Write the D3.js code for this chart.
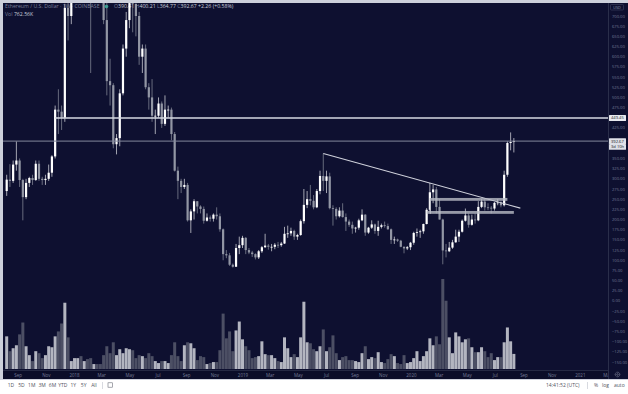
<!DOCTYPE html>
<html>
<head>
<meta charset="utf-8">
<script src="https://cdn.jsdelivr.net/npm/d3@7"></script>
<style>
  body { margin: 0; background: #fff; }
  svg { display: block; font-family: "Open Sans", sans-serif; }
</style>
</head>
<body>
<script>
// weekly ETH/USD candles, first week starts Mon 7 Aug 2017
const firstWeek = "2017-08-07";
const opens = [270,298,295,335,345,297,255,290,302,297, 337,300,297,300,315,355,470,465,450,720,
  700,750,1150,1270,1050,1120,900,870,940,870, 860,690,540,530,385,400,510,620,690,800,
  730,700,600,620,525,500,455,455,485,435, 470,470,410,320,295,280,285,198,220,245,
  232,226,197,205,202,212,208,176,115,112, 89,84,130,137,155,125,119,115,107,122,
  132,136,133,133,138,137,141,165,166,172, 158,162,196,236,250,246,230,270,307,295,
  306,228,226,208,222,206,195,187,178,180, 198,212,168,180,188,172,182,186,184,176,
  150,151,148,133,129,132,143,167,169,171, 189,224,267,274,231,200,124,122,131,144,
  158,170,197,210,187,200,198,231,244,230, 229,227,241,242,235,310,388,390.41];
const highs = [310,336,345,392,350,300,300,305,310,345, 345,305,310,335,358,480,520,480,730,880,
  780,1150,1420,1300,1120,1250,900,975,960,890, 870,735,595,535,410,520,630,710,830,810,
  730,710,630,630,535,545,470,500,490,505, 480,475,415,330,300,300,290,225,250,245,
  235,232,215,210,215,230,215,178,125,118, 92,140,158,160,157,130,123,117,125,135,
  165,140,140,142,145,145,182,185,180,175, 165,200,275,270,285,260,275,320,362,320,
  315,235,230,230,240,215,200,195,182,202, 225,213,182,198,190,197,190,195,190,178,
  158,153,150,134,135,145,170,178,175,190, 228,290,285,280,250,202,140,145,150,175,
  175,200,227,215,212,215,245,250,250,240, 233,243,250,245,320,392,414,400.21];
const lows = [258,280,290,320,280,198,250,280,285,295, 295,285,285,295,305,350,410,420,440,640,
  680,740,1050,780,960,860,560,850,800,840, 680,505,480,375,360,380,505,600,670,660,
  650,580,560,520,470,440,410,450,425,430, 450,395,318,250,265,275,195,167,200,215,
  215,190,195,195,195,200,170,100,105,86, 82,84,115,130,115,115,108,102,103,118,
  130,126,122,127,130,133,140,155,160,150, 150,160,190,228,235,225,228,262,270,265,
  225,185,200,205,205,172,182,165,168,175, 196,160,165,177,165,160,178,180,175,140,
  140,145,132,117,125,125,138,158,155,165, 188,220,240,215,200,90,107,120,128,143,
  145,168,195,180,185,190,196,228,222,223, 215,222,235,230,232,305,370,364.77];
const closes = [298,295,335,345,297,255,290,302,297,337, 300,297,300,315,355,470,465,450,720,700,
  750,1150,1270,1050,1120,900,870,940,870,860, 690,540,530,385,400,510,620,690,800,730,
  700,600,620,525,500,455,455,485,435,470, 470,410,320,295,280,285,198,220,245,232,
  226,197,205,202,212,208,176,115,112,89, 84,130,137,155,125,119,115,107,122,132,
  136,133,133,138,137,141,165,166,172,158, 162,196,236,250,246,230,270,307,295,306,
  228,226,208,222,206,195,187,178,180,198, 212,168,180,188,172,182,186,184,176,150,
  151,148,133,129,132,143,167,169,171,189, 224,267,274,231,200,124,122,131,144,158,
  170,197,210,187,200,198,231,244,230,229, 227,241,242,235,310,388,390.41,392.67];
// volume, thousands of ETH
const volumes = [1650,900,1050,1200,1750,2350,1150,700,400,900, 800,550,700,1150,1100,1650,1900,2300,3350,1600,
  400,550,550,650,400,500,550,250,250,250, 700,1150,800,1350,700,1000,800,1050,1000,950,
  550,700,650,550,800,650,400,300,400,400, 300,700,1350,650,400,1200,1350,1300,1050,450,
  650,600,250,300,350,350,950,2800,1550,1900, 900,1950,2400,1500,1150,950,550,600,650,1400,
  750,700,700,550,400,350,1600,1050,600,750, 600,1600,3400,1350,1300,1000,900,1150,2000,900,
  1100,1700,800,450,600,650,450,450,400,350, 800,1150,500,600,550,850,350,300,500,750,
  650,300,250,700,300,350,550,900,400,650, 900,1550,1200,1650,1250,4550,3450,1600,800,1850,
  1650,1350,1500,1550,1100,850,850,1100,900,600, 800,450,600,600,1350,2100,1400,762.56];

const priceTicks = d3.range(-150, 725, 25);
const rayPrice = 449.45, rayStart = "2017-11-20";
const lastPrice = 392.67;
const trendDates = ["2019-06-24", "2020-08-24"];
const trendPrices = [362, 228];
const zoneDates = [["2020-02-10", "2020-07-27"], ["2020-02-03", "2020-08-10"]];
const zonePrices = [[253, 246], [221, 214]];
const rangeButtons = ["1D", "5D", "1M", "3M", "6M", "YTD", "1Y", "5Y", "All"];

const W = 628, H = 394;
const plot = { left: 3, right: 608, top: 3, bottom: 370 };
const parse = d3.timeParse("%Y-%m-%d");
const start = parse(firstWeek);
const candles = opens.map((o, i) => ({
  date: d3.timeDay.offset(start, 7 * i),
  o: o, h: highs[i], l: lows[i], c: closes[i], v: volumes[i]
}));

const x = d3.scaleTime()
  .domain([new Date(2017, 6, 30), new Date(2021, 2, 2)])
  .range([plot.left, plot.right]);
const y = d3.scaleLinear().domain([-150, 700]).range([362, 16]);
const vh = d3.scaleLinear().domain([0, 4600]).range([0, 91]);

const svg = d3.select("body").append("svg").attr("width", W).attr("height", H);
svg.append("rect").attr("width", W).attr("height", H).attr("fill", "#ffffff");
svg.append("rect").attr("width", W).attr("height", 380).attr("fill", "#cdd0db");
svg.append("rect").attr("x", 3).attr("y", 3).attr("width", W - 3).attr("height", 376).attr("fill", "#0e1030");

// time axis strip + price axis border
svg.append("rect").attr("x", 3).attr("y", plot.bottom).attr("width", plot.right - 3).attr("height", 9).attr("fill", "#0b0d29");
svg.append("line").attr("x1", 3).attr("x2", plot.right).attr("y1", plot.bottom + 0.5).attr("y2", plot.bottom + 0.5)
  .attr("stroke", "#252944");
svg.append("line").attr("x1", plot.right + 0.5).attr("x2", plot.right + 0.5).attr("y1", 3).attr("y2", 379)
  .attr("stroke", "#2a2e4a");

svg.append("clipPath").attr("id", "clip").append("rect")
  .attr("x", plot.left).attr("y", plot.top)
  .attr("width", plot.right - plot.left).attr("height", plot.bottom - plot.top);
svg.append("clipPath").attr("id", "clipT").append("rect")
  .attr("x", plot.left).attr("y", plot.bottom).attr("width", plot.right - plot.left).attr("height", 9);

// legend (sits under the candles)
const legend = svg.append("g").attr("font-size", 5.2);
legend.append("text").attr("x", 5).attr("y", 8.3).attr("fill", "#7a7f99")
  .text("Ethereum / U.S. Dollar · 1W · COINBASE");
legend.append("circle").attr("cx", 106.5).attr("cy", 6.6).attr("r", 1.8).attr("fill", "#22ab94");
const last = candles[candles.length - 1];
const chg = last.c - candles[candles.length - 2].c;
const ohlc = [["O", last.o], ["H", last.h], ["L", last.l], ["C", last.c]];
const lt = legend.append("text").attr("x", 114).attr("y", 8.3);
ohlc.forEach(([k, v]) => {
  lt.append("tspan").attr("fill", "#7a7f99").text(k);
  lt.append("tspan").attr("fill", "#c9ccda").text(v.toFixed(2) + " ");
});
lt.append("tspan").attr("fill", "#c9ccda")
  .text("+" + chg.toFixed(2) + " (+" + (chg / candles[candles.length - 2].c * 100).toFixed(2) + "%)");
const vt = legend.append("text").attr("x", 5).attr("y", 16.3);
vt.append("tspan").attr("fill", "#7a7f99").text("Vol ");
vt.append("tspan").attr("fill", "#c9ccda").text(last.v.toFixed(2) + "K");

const g = svg.append("g").attr("clip-path", "url(#clip)");
const upCol = "#ffffff", dnCol = "#9296a4";

// volume overlay
g.selectAll("rect.vol").data(candles).join("rect").attr("class", "vol")
  .attr("x", d => x(d.date) - 1.5)
  .attr("width", 3)
  .attr("y", d => 369 - vh(d.v))
  .attr("height", d => vh(d.v))
  .attr("fill", d => d.c >= d.o ? "#b3b5c0" : "#4c4f64");

// candles
g.selectAll("line.wick").data(candles).join("line").attr("class", "wick")
  .attr("x1", d => x(d.date)).attr("x2", d => x(d.date))
  .attr("y1", d => y(d.h)).attr("y2", d => y(d.l))
  .attr("stroke", d => d.c >= d.o ? "#c9cad2" : "#7d8190").attr("stroke-width", 0.8);
g.selectAll("rect.body").data(candles).join("rect").attr("class", "body")
  .attr("x", d => x(d.date) - 1.1)
  .attr("width", 2.2)
  .attr("y", d => y(Math.max(d.o, d.c)))
  .attr("height", d => Math.max(0.8, Math.abs(y(d.o) - y(d.c))))
  .attr("fill", d => d.c >= d.o ? upCol : dnCol);

// horizontal lines
g.append("line").attr("x1", plot.left).attr("x2", plot.right)
  .attr("y1", y(lastPrice)).attr("y2", y(lastPrice))
  .attr("stroke", "#84889c").attr("stroke-width", 1);
g.append("line").attr("x1", x(parse(rayStart))).attr("x2", plot.right)
  .attr("y1", y(rayPrice)).attr("y2", y(rayPrice))
  .attr("stroke", "#d6d8e2").attr("stroke-width", 1.4);

// trend line
g.append("line")
  .attr("x1", x(parse(trendDates[0]))).attr("y1", y(trendPrices[0]))
  .attr("x2", x(parse(trendDates[1]))).attr("y2", y(trendPrices[1]))
  .attr("stroke", "#d0d2dc").attr("stroke-width", 1.1);

// support / resistance zones
zoneDates.forEach((dd, i) => {
  g.append("rect")
    .attr("x", x(parse(dd[0]))).attr("width", x(parse(dd[1])) - x(parse(dd[0])))
    .attr("y", y(zonePrices[i][0])).attr("height", y(zonePrices[i][1]) - y(zonePrices[i][0]))
    .attr("fill", "#b9bbc6").attr("fill-opacity", 0.8);
});
g.append("line")
  .attr("x1", x(parse(zoneDates[0][0])) + 0.5).attr("x2", x(parse(zoneDates[0][0])) + 0.5)
  .attr("y1", y(zonePrices[0][0])).attr("y2", y(zonePrices[1][1]))
  .attr("stroke", "#b9bbc6").attr("stroke-width", 1.2);

// time axis labels
const fmtM = d3.timeFormat("%b"), fmtY = d3.timeFormat("%Y");
svg.append("g").attr("clip-path", "url(#clipT)")
  .selectAll("text").data(x.ticks(d3.timeMonth.every(2))).join("text")
  .attr("x", d => x(d)).attr("y", 376.7)
  .attr("text-anchor", "middle").attr("font-size", 4.5).attr("fill", "#767c98")
  .text(d => d.getMonth() === 0 ? fmtY(d) : fmtM(d));

// price axis labels
const busy = [y(rayPrice), y(lastPrice), y(lastPrice) + 5.5];
const ax = svg.append("g").attr("font-size", 4.1).attr("fill", "#747a96");
priceTicks.filter(v => busy.every(b => Math.abs(y(v) - b) > 6))
  .forEach(v => {
    ax.append("text").attr("x", 612).attr("y", y(v) + 1.5)
      .text((v < 0 ? "\u2212" : "") + Math.abs(v).toFixed(2));
  });
function tag(yc, label, fill) {
  svg.append("rect").attr("x", 609).attr("y", yc - 2.9).attr("width", 17).attr("height", 5.8)
    .attr("fill", fill).attr("rx", 0.5);
  svg.append("text").attr("x", 611).attr("y", yc + 1.5).attr("font-size", 4.1)
    .attr("fill", "#131722").text(label);
}
tag(y(rayPrice), rayPrice.toFixed(2), "#e8e9ef");
tag(y(lastPrice), lastPrice.toFixed(2), "#dfe0e8");
tag(y(lastPrice) + 5.8, "3d 10h", "#dfe0e8");
svg.append("rect").attr("x", 610.5).attr("y", 4.5).attr("width", 13).attr("height", 5.5)
  .attr("fill", "none").attr("stroke", "#4a4f6c").attr("stroke-width", 0.5).attr("rx", 0.8);
svg.append("text").attr("x", 617).attr("y", 8.6).attr("text-anchor", "middle")
  .attr("font-size", 3.8).attr("fill", "#8a8fa8").text("USD");
// gear
svg.append("circle").attr("cx", 617.5).attr("cy", 374.5).attr("r", 2.3)
  .attr("fill", "none").attr("stroke", "#9296ab").attr("stroke-width", 0.7).attr("stroke-dasharray", "1,0.5");
svg.append("circle").attr("cx", 617.5).attr("cy", 374.5).attr("r", 0.8)
  .attr("fill", "none").attr("stroke", "#9296ab").attr("stroke-width", 0.5);

// bottom toolbar
const tb = svg.append("g").attr("font-size", 5).attr("fill", "#50535e");
const btnX = d3.scalePoint().domain(rangeButtons).range([11, 94]);
rangeButtons.forEach(b => {
  tb.append("text").attr("x", btnX(b)).attr("y", 387).attr("text-anchor", "middle").text(b);
});
tb.append("line").attr("x1", 102.5).attr("x2", 102.5).attr("y1", 382).attr("y2", 389).attr("stroke", "#d8dae0");
tb.append("rect").attr("x", 108).attr("y", 382.8).attr("width", 4.6).attr("height", 4.4)
  .attr("fill", "none").attr("stroke", "#6a6d78").attr("stroke-width", 0.6);
tb.append("text").attr("x", 546).attr("y", 387).text("14:41:52 (UTC)");
tb.append("line").attr("x1", 587.5).attr("x2", 587.5).attr("y1", 382).attr("y2", 389).attr("stroke", "#d8dae0");
tb.append("text").attr("x", 594).attr("y", 387).text("%");
tb.append("text").attr("x", 602).attr("y", 387).text("log");
tb.append("text").attr("x", 614).attr("y", 387).text("auto");
</script>
</body>
</html>
